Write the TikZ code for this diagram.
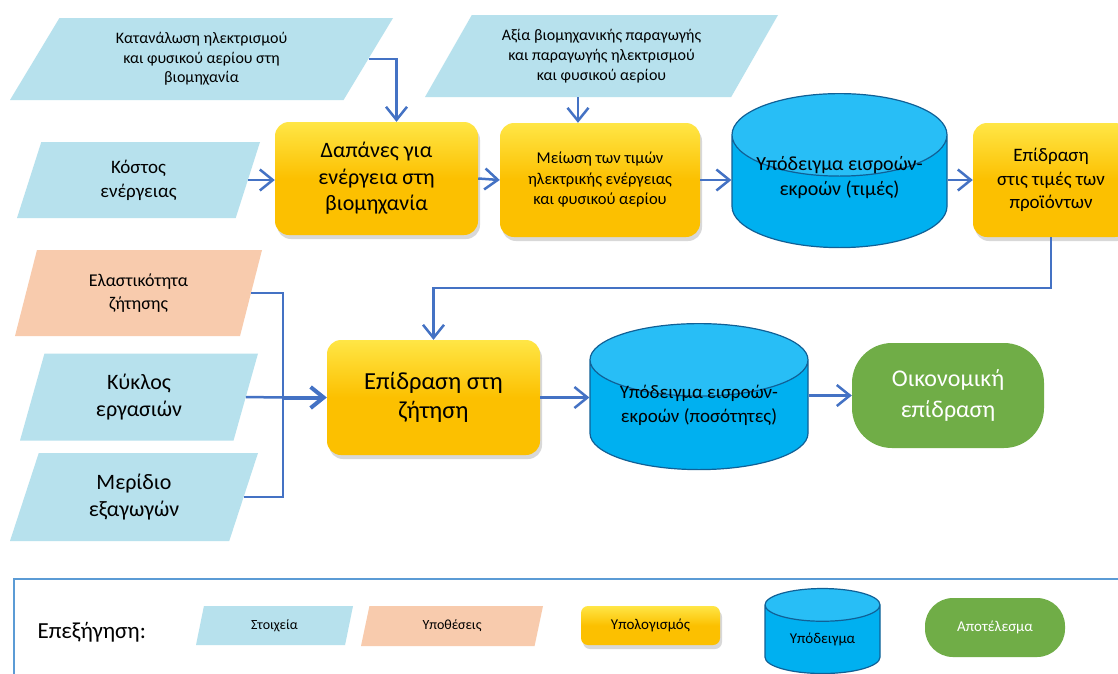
\documentclass[tikz,border=0pt]{standalone}
\usepackage{fontspec}
\setmainfont{Carlito}
\usepackage{xcolor}
\usetikzlibrary{shapes.geometric,arrows.meta,calc,shadows}
\definecolor{stoixBlue}{RGB}{183, 225, 237}
\definecolor{ypothOrange}{RGB}{248, 203, 173}
\definecolor{ypolGold}{RGB}{252, 192, 0}
\definecolor{ypolLight}{RGB}{255, 230, 70}
\definecolor{ypodBlue}{RGB}{0, 176, 240}
\definecolor{ypodTop}{RGB}{40, 190, 246}
\definecolor{ypodEdge}{RGB}{16, 96, 150}
\definecolor{apotGreen}{RGB}{112, 173, 71}
\definecolor{linkBlue}{RGB}{68, 114, 196}
\definecolor{frameBlue}{RGB}{91, 155, 213}
\newcommand{\fsize}[2]{\fontsize{#1}{#2}\selectfont}

\begin{document}
\begin{tikzpicture}[
        x=1pt, y=-1pt,
        stoixeio/.style={trapezium, trapezium stretches body, fill=stoixBlue, inner sep=0pt, align=center},
        ypothesi/.style={stoixeio, fill=ypothOrange},
        ypologismos/.style={rectangle, rounded corners=14pt, top color=ypolLight, bottom color=ypolGold, middle color=ypolGold, drop shadow={opacity=0.3, shadow xshift=2pt, shadow yshift=-4pt}, align=center, inner sep=0pt},
        ypodeigma/.style={cylinder, shape border rotate=90, aspect=0.5, cylinder uses custom fill, cylinder body fill=ypodBlue, cylinder end fill=ypodTop, draw=ypodEdge, line width=1.2pt, align=center, inner sep=0pt},
        cyltext/.style={anchor=center, align=center},
        apotelesma/.style={rectangle, rounded corners=40pt, fill=apotGreen, text=white, align=center, inner sep=0pt},
        link/.style={-{Straight Barb[length=13pt, width=21pt]}, line width=2.5pt, color=linkBlue},
        mainlink/.style={link, line width=4pt}
    ]

    \clip (0,0) rectangle (1118,673);
    \fill[white] (0,0) rectangle (1118,673);

    % Top row
    \node[stoixeio, trapezium left angle=47, trapezium right angle=133, minimum width=383pt, minimum height=82pt, font=\fsize{16}{19.5}] (katanalosi) at (201.5,59) {Κατανάλωση ηλεκτρισμού\\και φυσικού αερίου στη\\βιομηχανία};
    \node[stoixeio, trapezium left angle=59, trapezium right angle=121, minimum width=243pt, minimum height=76pt, font=\fsize{19}{24}] (kostos) at (138.5,180) {Κόστος\\ενέργειας};
    \node[stoixeio, trapezium left angle=49, trapezium right angle=131, minimum width=353pt, minimum height=82pt, font=\fsize{16}{20}] (axia) at (601.5,56) {Αξία βιομηχανικής παραγωγής\\και παραγωγής ηλεκτρισμού\\και φυσικού αερίου};
    \node[ypologismos, minimum width=203pt, minimum height=113pt, font=\fsize{22}{26.5}] (dapanes) at (376.5,178.5) {Δαπάνες για\\ενέργεια στη\\βιομηχανία};
    \node[ypologismos, minimum width=200pt, minimum height=114pt, font=\fsize{16.5}{20.5}] (meiosi) at (600,180) {Μείωση των τιμών\\ηλεκτρικής ενέργειας\\και φυσικού αερίου};
    \node[ypodeigma, minimum width=215pt, minimum height=154pt, anchor=north,
        label={[cyltext, yshift=-84.5pt, font=\fsize{20}{25}]north:{Υπόδειγμα εισροών-\\εκροών (τιμές)}}] (ypodTimes) at (839.5,93) {\rule{165pt}{0pt}};
    \node[ypologismos, minimum width=156pt, minimum height=114pt, font=\fsize{19}{23.5}] (epidrTimes) at (1051,180) {Επίδραση\\στις τιμές των\\προϊόντων};

    % Middle row
    \node[ypothesi, trapezium left angle=60, trapezium right angle=120, minimum width=247pt, minimum height=86pt, font=\fsize{18}{22.5}] (elastikotita) at (138.5,293) {Ελαστικότητα\\ζήτησης};
    \node[stoixeio, trapezium left angle=62, trapezium right angle=118, minimum width=238pt, minimum height=87pt, font=\fsize{22}{27}] (kyklos) at (139,397) {Κύκλος\\εργασιών};
    \node[stoixeio, trapezium left angle=58, trapezium right angle=122, minimum width=248pt, minimum height=88pt, font=\fsize{22}{27}] (meridio) at (134,497) {Μερίδιο\\εξαγωγών};
    \node[ypologismos, minimum width=213pt, minimum height=115pt, font=\fsize{24.5}{29.5}] (epidrZitisi) at (433.5,397.5) {Επίδραση στη\\ζήτηση};
    \node[ypodeigma, minimum width=218pt, minimum height=146pt, anchor=north,
        label={[cyltext, yshift=-82pt, font=\fsize{19}{24}]north:{Υπόδειγμα εισροών-\\εκροών (ποσότητες)}}] (ypodPosot) at (699,323) {\rule{145pt}{0pt}};
    \node[apotelesma, minimum width=192pt, minimum height=105pt, font=\fsize{24}{31}] (oikonomiki) at (948,395.5) {Οικονομική\\επίδραση};

    % Links
    \draw[link] (katanalosi.right side) -| ($(dapanes.north)+(20,0)$);
    \draw[link] (kostos.right side) -- (kostos.right side -| dapanes.west);
    \draw[link] (axia.bottom side) -- (axia.bottom side |- meiosi.north);
    \draw[link] (dapanes.east) -- (meiosi.west);
    \draw[link] (meiosi.east) -- (meiosi.east -| ypodTimes.west);
    \draw[link] (epidrTimes.west -| ypodTimes.east) -- (epidrTimes.west);
    \draw[link] (epidrTimes.south) -- ++(0,51) -| (epidrZitisi.north);
    \coordinate (synenosi) at (283,397.5);
    \draw[link, -] (elastikotita.right side) -| (synenosi);
    \draw[link, -] (meridio.right side) -| (synenosi);
    \draw[link, -] (kyklos.right side) -- (synenosi);
    \draw[mainlink] (synenosi) -- (epidrZitisi.west);
    \draw[link] (epidrZitisi.east) -- (epidrZitisi.east -| ypodPosot.west);
    \draw[link] (oikonomiki.west -| ypodPosot.east) -- (oikonomiki.west);

    % Legend
    \draw[frameBlue, line width=2pt] (1130,579) -| (14,690);
    \node[font=\fsize{23}{28}, anchor=west] (epexigisi) at (34,632) {Επεξήγηση:};
    \node[stoixeio, trapezium left angle=57, trapezium right angle=123, minimum width=157pt, minimum height=39pt, font=\fsize{14}{17}] (legStoixeia) at (274.5,625.5) {Στοιχεία};
    \node[ypothesi, trapezium left angle=55, trapezium right angle=125, minimum width=182pt, minimum height=40pt, font=\fsize{14}{17}] (legYpotheseis) at (452,626) {Υποθέσεις};
    \node[ypologismos, rounded corners=7pt, minimum width=139pt, minimum height=39pt, font=\fsize{15}{18}] (legYpologismos) at (650.5,625.5) {Υπολογισμός};
    \node[ypodeigma, minimum width=115pt, minimum height=85pt, font=\fsize{15}{18}] (legYpodeigma) at (822.5,639.5) {Υπόδειγμα};
    \node[apotelesma, rounded corners=28pt, minimum width=140pt, minimum height=59pt, font=\fsize{15}{18}] (legApotelesma) at (995,627.5) {Αποτέλεσμα};

\end{tikzpicture}
\end{document}
